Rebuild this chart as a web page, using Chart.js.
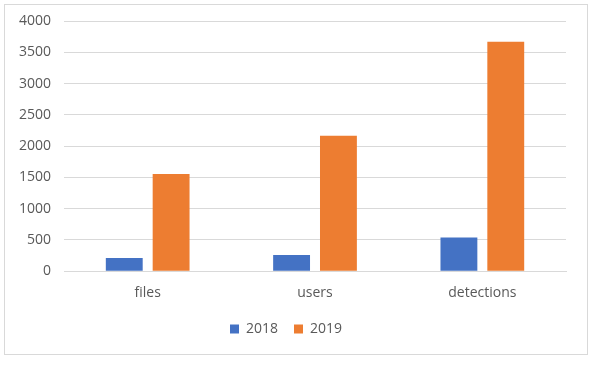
<!DOCTYPE html>
<html>
<head>
<meta charset="utf-8">
<script src="https://cdn.jsdelivr.net/npm/chart.js@4/dist/chart.umd.min.js"></script>
<style>
body{margin:0;background:#fff;}
#frame{position:absolute;left:4px;top:4px;width:584px;height:351px;border:1px solid #d9d9d9;box-sizing:border-box;}
#box{position:absolute;left:5px;top:1px;width:582px;height:353px;}
</style>
</head>
<body>
<div id="frame"></div>
<div id="box"><canvas id="chart"></canvas></div>
<script>
const categories=["files","users","detections"];
const values2018=[212,260,537];
const values2019=[1552,2165,3668];
const yTicks=[0,500,1000,1500,2000,2500,3000,3500,4000];

const ctx=document.getElementById("chart").getContext("2d");
new Chart(ctx,{
type:"bar",
data:{
labels:categories,
datasets:[
{label:"2018",data:values2018,backgroundColor:"#4472c4"},
{label:"2019",data:values2019,backgroundColor:"#ed7d31"}
]
},
options:{
responsive:true,
maintainAspectRatio:false,
animation:false,
categoryPercentage:0.56,
barPercentage:0.787,
layout:{padding:{top:0,right:21,left:1,bottom:8}},
plugins:{
legend:{
position:"bottom",
labels:{boxWidth:9,boxHeight:9,color:"#595959",font:{family:"Open Sans",size:14},padding:16}
},
tooltip:{enabled:false}
},
scales:{
x:{
grid:{display:false},
border:{color:"#d9d9d9"},
ticks:{color:"#595959",font:{family:"Open Sans",size:14},padding:5}
},
y:{
min:0,max:4000,
afterBuildTicks:(s)=>{s.ticks=yTicks.map(v=>({value:v}));},
grid:{color:"#d9d9d9",drawTicks:false},
border:{display:false},
ticks:{color:"#595959",font:{family:"Open Sans",size:14,lineHeight:1},padding:13,callback:(v)=>String(v)}
}
}
}
});
</script>
</body>
</html>
